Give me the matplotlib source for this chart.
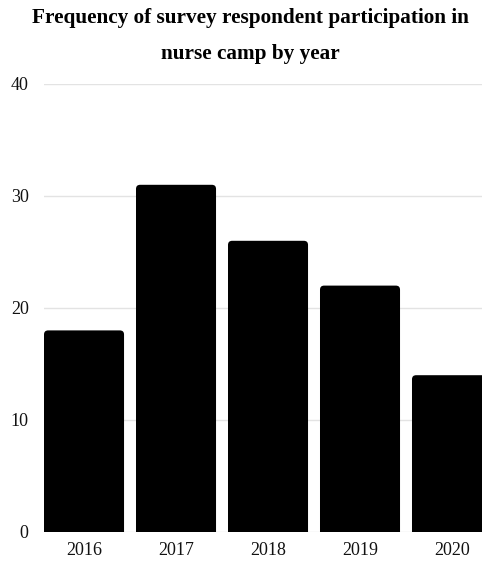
import matplotlib.pyplot as plt
from matplotlib.patches import FancyBboxPatch

# datos del grafico
years = ['2016', '2017', '2018', '2019', '2020']
counts = [18, 31, 26, 22, 14]
y_ticks = [0, 10, 20, 30, 40]

plt.rcParams['font.family'] = ['Liberation Serif', 'DejaVu Serif']

W, H = 482, 565
fig = plt.figure(figsize=(W / 100, H / 100), dpi=100)
ax = fig.add_axes([44 / W, (H - 532) / H, 1 - 44 / W, (532 - 84) / H])

bar_w = 0.87
for i, c in enumerate(counts):
    # barra con esquinas superiores redondeadas (la parte de abajo queda recortada)
    p = FancyBboxPatch((i - bar_w / 2, -2), bar_w, c + 2,
                       boxstyle='round,pad=0,rounding_size=0.045',
                       mutation_aspect=8.2, facecolor='black',
                       edgecolor='none', zorder=3)
    ax.add_patch(p)

ax.set_xlim(-0.435, 4.326)
ax.set_ylim(0, 40)
ax.set_xticks(range(len(years)))
ax.set_xticklabels(years)
ax.set_yticks(y_ticks)
ax.tick_params(length=0, labelsize=13, colors='#111111')
ax.tick_params(axis='y', pad=11)
ax.tick_params(axis='x', pad=7)
ax.grid(axis='y', color='#e3e3e3', linewidth=1, zorder=0)
for s in ax.spines.values():
    s.set_visible(False)

fig.text(250 / W, 1 - 18 / H, 'Frequency of survey respondent participation in',
         ha='center', va='center', fontsize=15.3, fontweight='bold')
fig.text(250 / W, 1 - 54 / H, 'nurse camp by year',
         ha='center', va='center', fontsize=15.3, fontweight='bold')

fig.savefig('out.png', dpi=100)
